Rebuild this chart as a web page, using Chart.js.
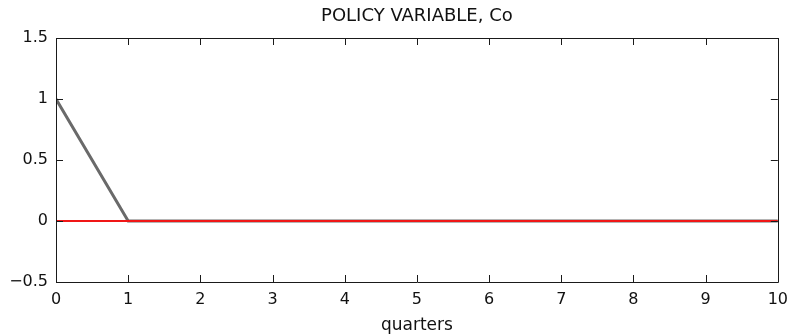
<!DOCTYPE html>
<html>
<head>
<meta charset="utf-8">
<script src="https://cdn.jsdelivr.net/npm/chart.js@4"></script>
<style>
  html, body { margin: 0; padding: 0; background: #fff; }
  #wrap { width: 796px; height: 336px; position: relative; }
</style>
</head>
<body>
<div id="wrap"><canvas id="chart"></canvas></div>
<script>
// Impulse response of the policy variable over ten quarters
const quarters = [0, 1, 2, 3, 4, 5, 6, 7, 8, 9, 10];
const policyResponse = [1, 0, 0, 0, 0, 0, 0, 0, 0, 0, 0];
const zeroLine = [0, 0, 0, 0, 0, 0, 0, 0, 0, 0, 0];
const xTickValues = [0, 1, 2, 3, 4, 5, 6, 7, 8, 9, 10];
const xTickLabels = ['0', '1', '2', '3', '4', '5', '6', '7', '8', '9', '10'];
const yTickValues = [-0.5, 0, 0.5, 1, 1.5];
const yTickLabels = ['\u22120.5', '0', '0.5', '1', '1.5'];
const chartTitle = 'POLICY VARIABLE, Co';
const xAxisTitle = 'quarters';

const FONT = '"DejaVu Sans", "Liberation Sans", Arial, sans-serif';

const toPoints = (xs, ys) => xs.map((x, i) => ({ x: x, y: ys[i] }));

// Axes box with inward tick marks on all four sides, plus the title
const boxPlugin = {
  id: 'boxFrame',
  afterDraw(chart) {
    const { ctx, chartArea: a, scales } = chart;
    const xs = scales.x, ys = scales.y;
    const tick = 7;
    ctx.save();
    ctx.strokeStyle = '#1a1a1a';
    ctx.lineWidth = 1;
    ctx.beginPath();
    ctx.rect(Math.round(a.left) + 0.5, Math.round(a.top) + 0.5,
             Math.round(a.right - a.left), Math.round(a.bottom - a.top));
    xTickValues.forEach(v => {
      const px = Math.round(xs.getPixelForValue(v)) + 0.5;
      ctx.moveTo(px, a.bottom); ctx.lineTo(px, a.bottom - tick);
      ctx.moveTo(px, a.top); ctx.lineTo(px, a.top + tick);
    });
    yTickValues.forEach(v => {
      const py = Math.round(ys.getPixelForValue(v)) + 0.5;
      ctx.moveTo(a.left, py); ctx.lineTo(a.left + tick, py);
      ctx.moveTo(a.right, py); ctx.lineTo(a.right - tick, py);
    });
    ctx.stroke();

    ctx.fillStyle = '#111';
    ctx.font = '18px ' + FONT;
    ctx.textAlign = 'center';
    ctx.textBaseline = 'middle';
    ctx.fillText(chartTitle, (a.left + a.right) / 2, 16);
    ctx.restore();
  }
};

new Chart(document.getElementById('chart'), {
  type: 'line',
  data: {
    datasets: [
      {
        label: 'zero',
        data: toPoints(quarters, zeroLine),
        borderColor: '#f01616',
        borderWidth: 2,
        pointRadius: 0,
        tension: 0
      },
      {
        label: 'Co',
        data: toPoints(quarters, policyResponse),
        borderColor: '#6a6a6a',
        borderWidth: 3,
        pointRadius: 0,
        tension: 0
      }
    ]
  },
  options: {
    responsive: true,
    maintainAspectRatio: false,
    animation: false,
    devicePixelRatio: 1,
    layout: { padding: { top: 38, right: 14, left: 0, bottom: 0 } },
    plugins: {
      legend: { display: false },
      title: { display: false },
      tooltip: { enabled: false }
    },
    scales: {
      x: {
        type: 'linear',
        min: 0,
        max: 10,
        afterBuildTicks: s => { s.ticks = xTickValues.map(v => ({ value: v })); },
        afterFit: s => { s.height = 54; },
        grid: { display: false, drawTicks: false, tickLength: 0 },
        border: { display: false },
        ticks: {
          color: '#111',
          font: { family: FONT, size: 16 },
          padding: 8,
          maxRotation: 0,
          autoSkip: false,
          callback: (v) => xTickLabels[xTickValues.indexOf(v)]
        },
        title: {
          display: true,
          text: xAxisTitle,
          color: '#111',
          font: { family: FONT, size: 17 },
          padding: { top: 0, bottom: 0 }
        }
      },
      y: {
        type: 'linear',
        min: -0.5,
        max: 1.5,
        afterBuildTicks: s => { s.ticks = yTickValues.map(v => ({ value: v })); },
        afterFit: s => { s.width = 56; },
        grid: { display: false, drawTicks: false, tickLength: 0 },
        border: { display: false },
        ticks: {
          color: '#111',
          font: { family: FONT, size: 16 },
          padding: 8,
          autoSkip: false,
          callback: (v) => yTickLabels[yTickValues.indexOf(v)]
        }
      }
    }
  },
  plugins: [boxPlugin]
});
</script>
</body>
</html>
